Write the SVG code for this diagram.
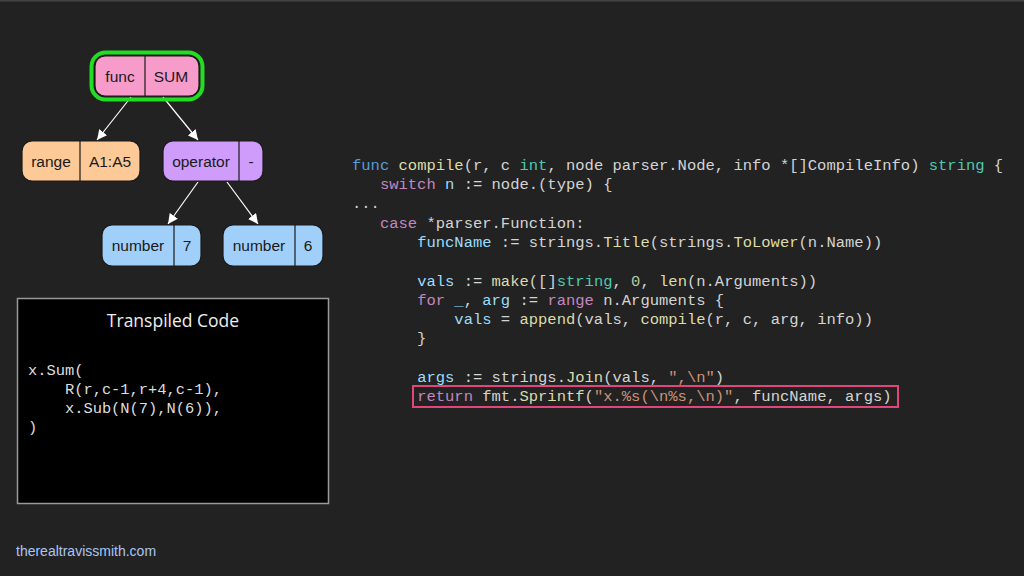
<svg xmlns="http://www.w3.org/2000/svg" width="1024" height="576" viewBox="0 0 1024 576">
<defs>
<marker id="ah" viewBox="0 0 10 10" refX="10" refY="5" markerWidth="10" markerHeight="10" markerUnits="userSpaceOnUse" orient="auto">
<path d="M0,0 L10,5 L0,10 z" fill="#ffffff"/>
</marker>
</defs>
<style>
.nl{font-family:"Liberation Sans",Arial,sans-serif;font-size:15.5px;fill:#1a1a1a;text-anchor:middle;dominant-baseline:central}
.box{stroke:#1a1a1a;stroke-width:1.2}
.div{stroke:#1a1a1a;stroke-width:1.2}
.edge{stroke:#ffffff;stroke-width:1.2;fill:none;marker-end:url(#ah)}
.code{font-family:"Liberation Mono","DejaVu Sans Mono",monospace;font-size:15.5px;fill:#d4d4d4;white-space:pre}
.kw{fill:#569cd6}.ct{fill:#c586c0}.fn{fill:#dcdcaa}.ty{fill:#4ec9b0}.va{fill:#9cdcfe}.st{fill:#ce9178}.nu{fill:#b5cea8}
.tc{font-family:"Liberation Mono","DejaVu Sans Mono",monospace;font-size:15.4px;fill:#dddddd;white-space:pre}
</style>
<rect x="0" y="0" width="1024" height="576" fill="#222222"/>
<rect x="0" y="0" width="1024" height="1.5" fill="#444444"/>

<g id="connectors">
<line class="edge" x1="131" y1="97" x2="97" y2="140"/>
<line class="edge" x1="163" y1="97" x2="198" y2="140"/>
<line class="edge" x1="198" y1="182" x2="168" y2="224"/>
<line class="edge" x1="227" y1="182" x2="258" y2="224"/>
</g>

<g id="node-func">
<rect x="91.5" y="52.5" width="111" height="47" rx="14" fill="none" stroke="#22dd22" stroke-width="4"/>
<rect class="box" x="95" y="56" width="104" height="40" rx="10" fill="#f79bcb"/>
<line class="div" x1="145" y1="56" x2="145" y2="96"/>
<text class="nl" x="120" y="76">func</text>
<text class="nl" x="171" y="76">SUM</text>
</g>

<g id="node-range">
<rect class="box" x="22" y="141" width="118" height="40" rx="10" fill="#fdc997"/>
<line class="div" x1="80" y1="141" x2="80" y2="181"/>
<text class="nl" x="51" y="161">range</text>
<text class="nl" x="110" y="161">A1:A5</text>
</g>

<g id="node-operator">
<rect class="box" x="163" y="141" width="100" height="40" rx="10" fill="#cf9cfb"/>
<line class="div" x1="239" y1="141" x2="239" y2="181"/>
<text class="nl" x="201" y="161">operator</text>
<text class="nl" x="251" y="161">-</text>
</g>

<g id="node-number7">
<rect class="box" x="102" y="225" width="99" height="41" rx="10" fill="#a0cff9"/>
<line class="div" x1="174" y1="225" x2="174" y2="266"/>
<text class="nl" x="138" y="245">number</text>
<text class="nl" x="187" y="245">7</text>
</g>

<g id="node-number6">
<rect class="box" x="223" y="225" width="100" height="41" rx="10" fill="#a0cff9"/>
<line class="div" x1="295" y1="225" x2="295" y2="266"/>
<text class="nl" x="259" y="245">number</text>
<text class="nl" x="308" y="245">6</text>
</g>

<g id="transpiled">
<rect x="17.5" y="298.5" width="311" height="205" fill="#000000" stroke="#9a9a9a" stroke-width="1.5"/>
<text x="173" y="327" text-anchor="middle" font-family="'Open Sans','Noto Sans',sans-serif" font-size="17.5" fill="#eeeeee">Transpiled Code</text>
<text class="tc" x="28" y="375">x.Sum(</text>
<text class="tc" x="28" y="394">    R(r,c-1,r+4,c-1),</text>
<text class="tc" x="28" y="413">    x.Sub(N(7),N(6)),</text>
<text class="tc" x="28" y="432">)</text>
</g>

<g id="source-code">
<text class="code" x="352" y="170"><tspan class="kw">func</tspan> <tspan class="fn">compile</tspan>(r, c <tspan class="ty">int</tspan>, node parser.Node, info *[]CompileInfo) <tspan class="ty">string</tspan> {</text>
<text class="code" x="352" y="189">   <tspan class="ct">switch</tspan> <tspan class="va">n</tspan> := node.(type) {</text>
<text class="code" x="352" y="208">...</text>
<text class="code" x="352" y="228">   <tspan class="ct">case</tspan> *parser.Function:</text>
<text class="code" x="352" y="247">       <tspan class="va">funcName</tspan> := strings.<tspan class="fn">Title</tspan>(strings.<tspan class="fn">ToLower</tspan>(n.Name))</text>
<text class="code" x="352" y="286">       <tspan class="va">vals</tspan> := <tspan class="fn">make</tspan>([]<tspan class="ty">string</tspan>, <tspan class="nu">0</tspan>, <tspan class="fn">len</tspan>(n.Arguments))</text>
<text class="code" x="352" y="305">       <tspan class="ct">for</tspan> <tspan class="va">_</tspan>, <tspan class="va">arg</tspan> := <tspan class="ct">range</tspan> n.Arguments {</text>
<text class="code" x="352" y="324">           <tspan class="va">vals</tspan> = <tspan class="fn">append</tspan>(vals, <tspan class="fn">compile</tspan>(r, c, arg, info))</text>
<text class="code" x="352" y="343">       }</text>
<text class="code" x="352" y="382">       <tspan class="va">args</tspan> := strings.<tspan class="fn">Join</tspan>(vals, <tspan class="st">",\n"</tspan>)</text>
<text class="code" x="352" y="401">       <tspan class="ct">return</tspan> fmt.<tspan class="fn">Sprintf</tspan>(<tspan class="st">"x.%s(\n%s,\n)"</tspan>, funcName, args)</text>
</g>

<rect id="highlight" x="413" y="386" width="485" height="21" fill="none" stroke="#e0457b" stroke-width="2"/>

<text id="footer" x="16" y="556" font-family="'Liberation Sans',Arial,sans-serif" font-size="14" fill="#a8c7f5">therealtravissmith.com</text>
</svg>
